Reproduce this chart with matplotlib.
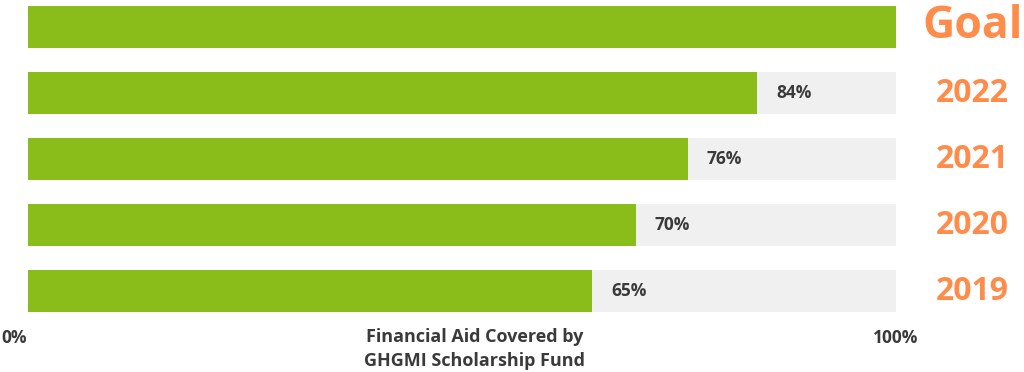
import matplotlib.pyplot as plt

# data, bottom to top
labels = ["2019", "2020", "2021", "2022", "Goal"]
values = [65, 70, 76, 84, 100]

GREEN = "#8bbd1a"
GRAY = "#f0f0f0"
ORANGE = "#ff8c4a"
TEXT = "#3a3a3a"

plt.rcParams['font.family'] = ['Open Sans', 'DejaVu Sans']

fig = plt.figure(figsize=(10.24, 3.72), dpi=100)
# axes spans bar area horizontally, full height vertically
ax = fig.add_axes([28 / 1024, 0, 868 / 1024, 1])
ax.set_xlim(0, 100)
ax.set_ylim(-1.227, 4.409)
ax.axis("off")

ypos = list(range(len(labels)))
h = 42 / 66
ax.barh(ypos, [100] * len(labels), height=h, color=GRAY, zorder=1)
ax.barh(ypos, values, height=h, color=GREEN, zorder=2)

for y, v, lab in zip(ypos, values, labels):
    if lab != "Goal":
        ax.text(v + 2.2, y, f"{v}%", va="center", ha="left", fontsize=12.5,
                fontweight="bold", color=TEXT)
        ax.text(108.8, y, lab, va="center", ha="center", fontsize=23,
                fontweight="bold", color=ORANGE)
    else:
        ax.text(108.8, y, lab, va="center", ha="center", fontsize=32,
                fontweight="bold", color=ORANGE)

fig.text(14 / 1024, 1 - 338 / 372, "0%", ha="center", va="center",
         fontsize=12.5, fontweight="bold", color=TEXT)
fig.text(896 / 1024, 1 - 338 / 372, "100%", ha="center", va="center",
         fontsize=12.5, fontweight="bold", color=TEXT)
fig.text(475 / 1024, 1 - 349 / 372, "Financial Aid Covered by\nGHGMI Scholarship Fund",
         ha="center", va="center", fontsize=13, fontweight="bold", color=TEXT,
         linespacing=1.45)

fig.savefig("out.png", dpi=100)
